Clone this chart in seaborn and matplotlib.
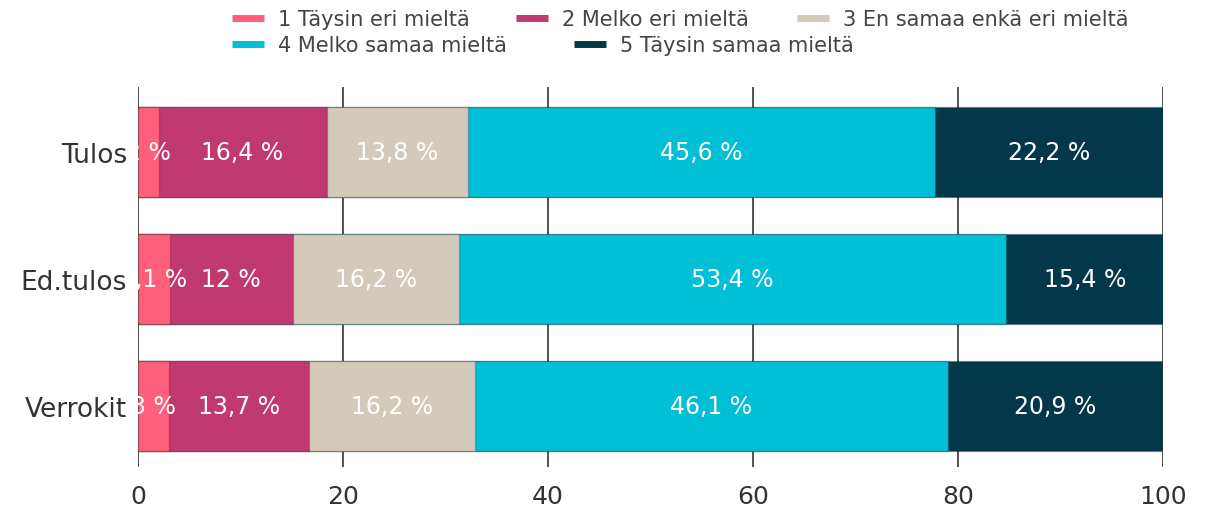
import pandas as pd
import numpy as np
import matplotlib
matplotlib.use("Agg")
import matplotlib.pyplot as plt
from matplotlib.lines import Line2D
import seaborn as sns

# Data
ryhmat = ["Tulos", "Ed.tulos", "Verrokit"]
vastaukset = ["1 Täysin eri mieltä", "2 Melko eri mieltä", "3 En samaa enkä eri mieltä",
              "4 Melko samaa mieltä", "5 Täysin samaa mieltä"]
osuus_1 = [2.0, 3.1, 3.0]
osuus_2 = [16.4, 12.0, 13.7]
osuus_3 = [13.8, 16.2, 16.2]
osuus_4 = [45.6, 53.4, 46.1]
osuus_5 = [22.2, 15.4, 20.9]
varit = ["#FF5F7A", "#C0396F", "#D3CABB", "#00BFD6", "#023849"]

df = pd.DataFrame({"ryhma": ryhmat, vastaukset[0]: osuus_1, vastaukset[1]: osuus_2,
                   vastaukset[2]: osuus_3, vastaukset[3]: osuus_4, vastaukset[4]: osuus_5})

sns.set_theme(style="white")
plt.rcParams["font.family"] = ["DejaVu Sans"]

fig = plt.figure(figsize=(12.06, 5.10), dpi=100)
ax = fig.add_axes([138 / 1206, 1 - 468 / 510, 1025 / 1206, 380 / 510])

# stacked bars: draw cumulative sums from the last segment to the first
kum = df[vastaukset].cumsum(axis=1)
for i in range(len(vastaukset) - 1, -1, -1):
    sns.barplot(x=kum[vastaukset[i]], y=df["ryhma"], order=ryhmat, orient="h",
                color=varit[i], saturation=1, width=0.71, ax=ax,
                edgecolor="#00000030", linewidth=1)

# segment labels
for r, ryhma in enumerate(ryhmat):
    alku = 0
    for i, v in enumerate(vastaukset):
        arvo = df.loc[r, v]
        teksti = (f"{arvo:.0f} %" if float(arvo).is_integer() else f"{arvo:.1f} %".replace(".", ","))
        ax.text(alku + arvo / 2, r, teksti, ha="center", va="center", color="white",
                fontsize=17, clip_on=True)
        alku += arvo

ax.set_xlim(0, 100)
ax.set_ylim(2.484, -0.516)
ax.set_xticks([0, 20, 40, 60, 80, 100])
ax.grid(axis="x", color="#444444", linewidth=1.3)
ax.grid(axis="y", visible=False)
ax.set_axisbelow(True)
for s in ax.spines.values():
    s.set_visible(False)
ax.set_xlabel("")
ax.set_ylabel("")
ax.tick_params(axis="x", length=0, pad=12, labelsize=18, labelcolor="#333333")
ax.tick_params(axis="y", length=0, pad=8, labelsize=19, labelcolor="#333333")

# legend, placed item by item
paikat = [(232, 20), (516, 20), (797, 20), (232, 46), (574, 46)]
for (px, py), v, c in zip(paikat, vastaukset, varit):
    kahva = Line2D([0], [0], color=c, lw=5, solid_capstyle="butt")
    fig.legend([kahva], [v], loc="center left", bbox_to_anchor=(px / 1206, 1 - py / 510),
               frameon=False, borderpad=0, borderaxespad=0, handlelength=1.55,
               handletextpad=0.65, fontsize=15, labelcolor="#444444")

fig.savefig("out.png", dpi=100)
